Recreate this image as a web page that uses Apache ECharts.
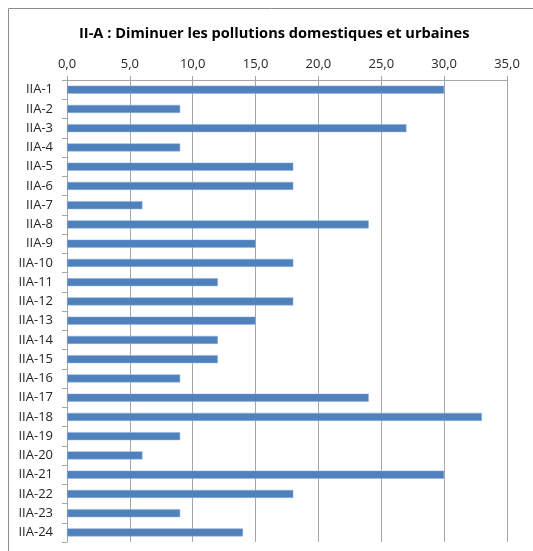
<!DOCTYPE html>
<html>
<head>
<meta charset="utf-8">
<title>II-A</title>
<script src="https://cdn.jsdelivr.net/npm/echarts@6/dist/echarts.min.js"></script>
<style>
  html, body { margin: 0; padding: 0; background: #fff; }
  #chart { width: 533px; height: 551px; }
</style>
</head>
<body>
<div id="chart"></div>
<script>
// Mesures du volet II-A
const categories = [
  'IIA-1', 'IIA-2', 'IIA-3', 'IIA-4', 'IIA-5', 'IIA-6', 'IIA-7', 'IIA-8',
  'IIA-9', 'IIA-10', 'IIA-11', 'IIA-12', 'IIA-13', 'IIA-14', 'IIA-15', 'IIA-16',
  'IIA-17', 'IIA-18', 'IIA-19', 'IIA-20', 'IIA-21', 'IIA-22', 'IIA-23', 'IIA-24'
];
const scores = [
  30, 9, 27, 9, 18, 18, 6, 24,
  15, 18, 12, 18, 15, 12, 12, 9,
  24, 33, 9, 6, 30, 18, 9, 14
];
const axisMin = 0;
const axisMax = 35;
const axisStep = 5;

const FONT = '"Open Sans", "Liberation Sans", sans-serif';

const chart = echarts.init(document.getElementById('chart'));
chart.setOption({
  animation: false,
  backgroundColor: '#fff',
  textStyle: { fontFamily: FONT },
  title: {
    text: 'II-A : Diminuer les pollutions domestiques et urbaines',
    left: 74,
    top: 21,
    textStyle: { fontFamily: FONT, fontSize: 14.6, fontWeight: 'bold', color: '#000' }
  },
  graphic: [{
    type: 'rect',
    shape: { x: 8.5, y: 8.5, width: 540, height: 560 },
    style: { fill: 'none', stroke: '#8c8c8c', lineWidth: 1 },
    silent: true
  }],
  grid: { left: 67, right: 26, top: 80, bottom: 9, containLabel: false },
  xAxis: {
    type: 'value',
    position: 'top',
    min: axisMin,
    max: axisMax,
    interval: axisStep,
    axisLine: { show: true, lineStyle: { color: '#a6a6a6' } },
    axisTick: { show: true, length: 4, lineStyle: { color: '#a6a6a6' } },
    splitLine: { show: true, lineStyle: { color: '#a6a6a6' } },
    axisLabel: {
      color: '#262626',
      fontSize: 13,
      margin: 9,
      formatter: v => v.toFixed(1).replace('.', ',')
    }
  },
  yAxis: {
    type: 'category',
    data: categories,
    inverse: true,
    axisLine: { show: true, lineStyle: { color: '#a6a6a6' } },
    axisTick: { show: true, length: 5, lineStyle: { color: '#a6a6a6' } },
    axisLabel: { color: '#262626', fontSize: 13, margin: 14 }
  },
  series: [{
    type: 'bar',
    data: scores,
    barWidth: 8,
    itemStyle: { color: '#4f81bd', borderColor: '#8eaedb', borderWidth: 0.5 }
  }]
});
</script>
</body>
</html>
